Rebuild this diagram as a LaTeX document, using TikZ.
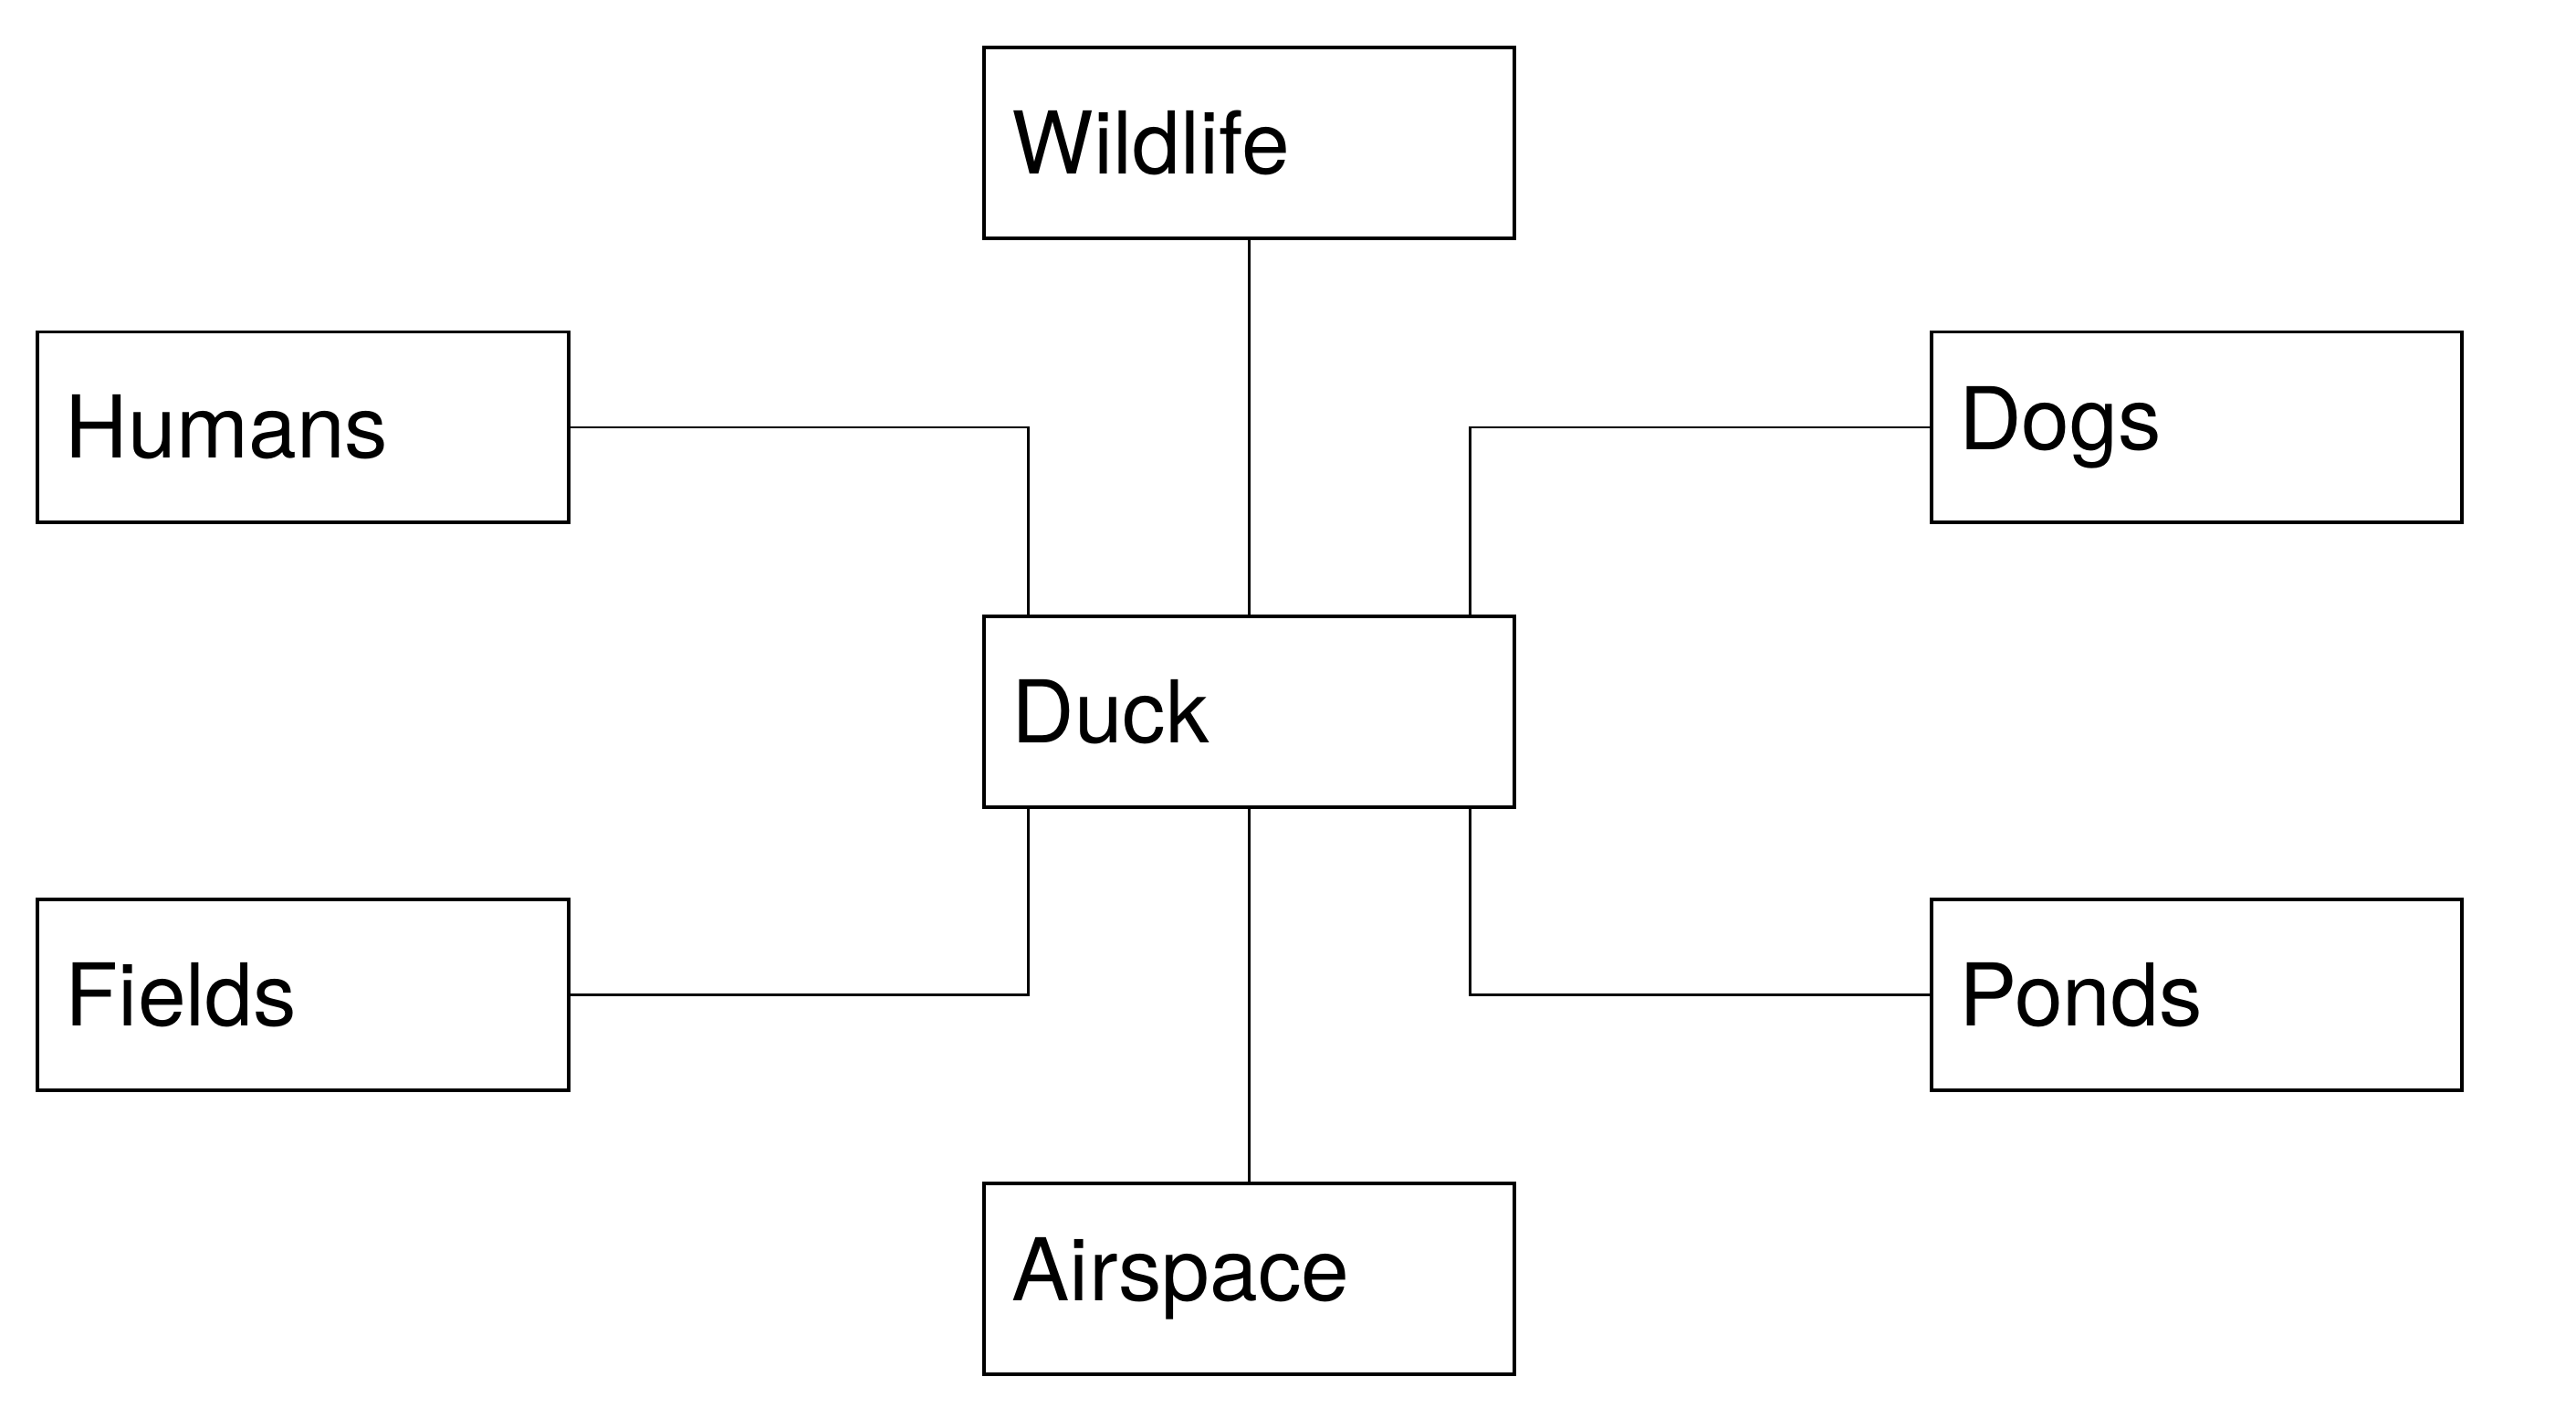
\documentclass[tikz,border=0pt]{standalone}
\usepackage{fontspec}
\setmainfont{TeX Gyre Heros}
\usepackage{tikz}
\usetikzlibrary{positioning,calc}
\tikzset{topic/.style={draw, line width=0.6pt, rectangle, minimum width=3.23cm, minimum height=1.16cm,
  text width=3.23cm-0.34cm, align=left, inner xsep=0.17cm, inner ysep=0pt,
  font=\fontsize{15}{18}\selectfont}}
\tikzset{link/.style={line width=0.45pt}}

\begin{document}
\begin{tikzpicture}
\useasboundingbox (0,0) rectangle (15.68,-8.63);
\node[topic] (duck) at (7.605,-4.33) {Duck};
\node[topic] (wildlife) at (7.605,-0.87) {Wildlife};
\node[topic] (airspace) at (7.605,-7.78) {Airspace};
\node[topic] (humans) at (1.845,-2.60) {Humans};
\node[topic] (fields) at (1.845,-6.055) {Fields};
\node[topic] (dogs) at (13.37,-2.60) {Dogs};
\node[topic] (ponds) at (13.37,-6.055) {Ponds};
\coordinate (dnw) at ($(duck.north west)+(0.28,0)$);
\coordinate (dne) at ($(duck.north east)+(-0.28,0)$);
\coordinate (dsw) at ($(duck.south west)+(0.28,0)$);
\coordinate (dse) at ($(duck.south east)+(-0.28,0)$);
\draw[link] (wildlife) -- (duck);
\draw[link] (airspace) -- (duck);
\draw[link] (humans.east) -| (dnw);
\draw[link] (dogs.west) -| (dne);
\draw[link] (fields.east) -| (dsw);
\draw[link] (ponds.west) -| (dse);
\end{tikzpicture}
\end{document}
